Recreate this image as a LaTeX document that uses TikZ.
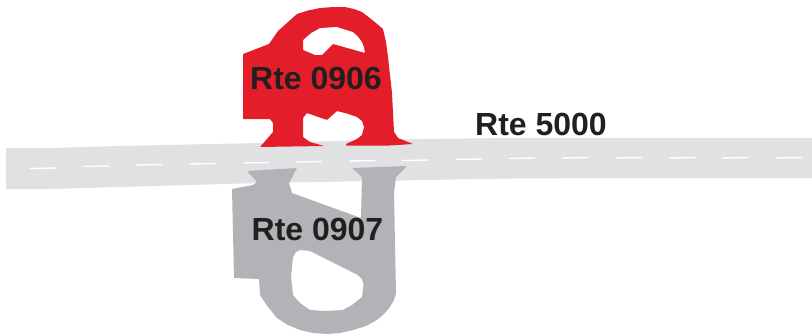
\documentclass[tikz,border=0pt]{standalone}
\usepackage{fontspec}
\setmainfont{Liberation Sans}
\definecolor{roadc}{HTML}{E0E1E3}
\definecolor{rampg}{HTML}{B1B3B6}
\definecolor{rampr}{HTML}{E31E2A}
\definecolor{ink}{HTML}{231F20}
\tikzset{
  lab/.style={font=\fontsize{32}{34}\selectfont\bfseries,text=ink,inner sep=0pt},
  road/.style={fill=roadc,draw=none},
  ramp/.style={draw=none,even odd rule,rounded corners=0.7pt},
  dashline/.style={draw=white,line width=1.4pt},
}
\begin{document}
\begin{tikzpicture}[x=1pt,y=-1pt]
\useasboundingbox (0,0) rectangle (812,335);
% main road
\fill[road] (6,148) -- (50,148) -- (120,146) -- (260,143) -- (420,139) -- (512,138) -- (812,138)
  -- (812,178) -- (610,178) -- (512,178.5) -- (260,183) -- (50,189) -- (6,189) -- cycle;
\foreach \x/\y in {30/168.5,83/166.5,136/165,189/164,243/163,296/162,349/161,402/160.5,
  456/159.5,509/158.5,562/158,616/158,669/158,722/158,776/158} {
  \draw[dashline] (\x,\y) -- (\x+26.5,\y-0.5);
}
% ramp 0906
\fill[ramp,rampr] (260,147) -- (273,132) -- (273,123) -- (270,119) -- (243,119) -- (243,54)
  -- (269,44) -- (278,31) -- (297,14) -- (308,10.5) -- (320,8) -- (333,7) -- (345,7) -- (354,9) -- (362,12)
  -- (373,20.5) -- (383,29) -- (386,42) -- (388,57) -- (392,93) -- (394,132) -- (398,138) -- (413,144)
  -- (390,145.5) -- (346,145.5) -- (346,144) -- (357,139) -- (362,135) -- (364,127) -- (362,121) -- (357,117)
  -- (347,113.5) -- (337,111) -- (327,120) -- (307,113) -- (303,118) -- (303,137) -- (310,142) -- (324,146) -- cycle
  (303,40) -- (311,33) -- (320,28) -- (337,27) -- (353,32) -- (358,36.5) -- (362,42) -- (364,47) -- (365,53) -- (333,44)
  -- (322,55) -- (315,55) -- (303,50) -- cycle;
% ramp 0907
\fill[ramp,rampg] (247,171) -- (297,168) -- (289,183) -- (292,193) -- (361,218) -- (362,177)
  -- (352,168) -- (407,166) -- (396,177) -- (394,193) -- (396,293) -- (394,300) -- (390,307) -- (384,314)
  -- (377,320) -- (366,326) -- (353,330) -- (340,333) -- (327,334) -- (313,333) -- (300,330) -- (288,325)
  -- (277,318) -- (268,307) -- (260,295) -- (259,279) -- (234,278)
  -- (232,189) -- (253,185) -- (257,182) -- cycle
  (293,257) -- (296,252) -- (300,250) -- (310,251) -- (358,275) -- (362,279) -- (363.5,285) -- (362,297)
  -- (352,305) -- (343,310) -- (325,311) -- (310,310) -- (300,303) -- (293,295) -- (291,277) -- cycle;
% labels
\node[lab] (rte0906) at (316,78) {Rte 0906};
\node[lab] (rte0907) at (317.5,229) {Rte 0907};
\node[lab] (rte5000) at (541,124) {Rte 5000};
\end{tikzpicture}
\end{document}
